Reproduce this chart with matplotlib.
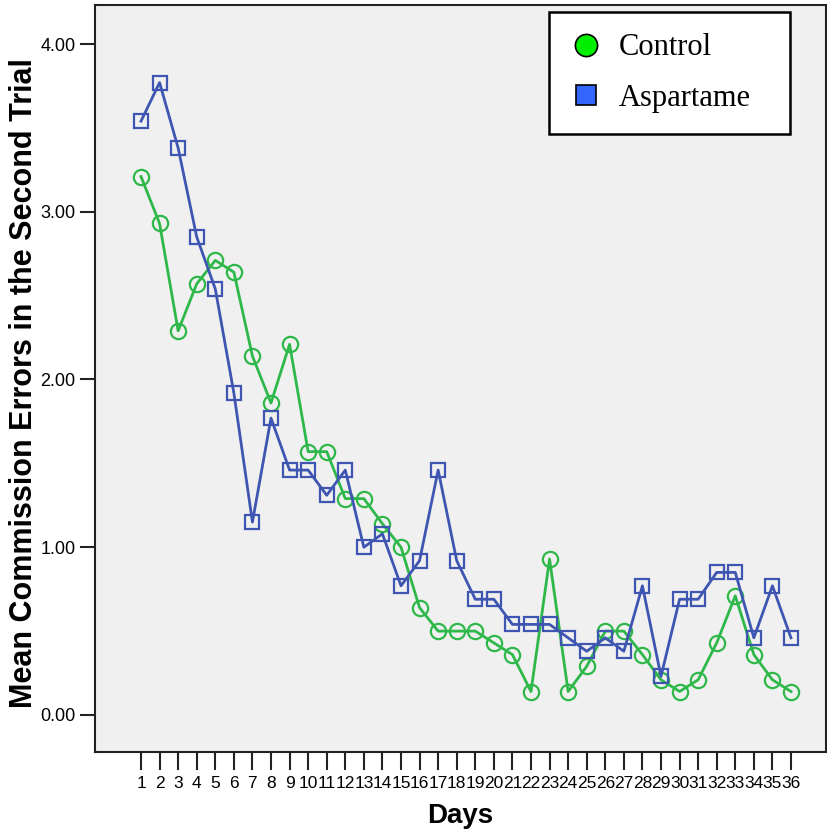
import matplotlib.pyplot as plt
from matplotlib.lines import Line2D

# days on the x axis
days = list(range(1, 37))

# mean commission errors per day
control = [3.21, 2.93, 2.29, 2.57, 2.71, 2.64, 2.14, 1.86, 2.21, 1.57,
           1.57, 1.29, 1.29, 1.14, 1.00, 0.64, 0.50, 0.50, 0.50, 0.43,
           0.36, 0.14, 0.93, 0.14, 0.29, 0.50, 0.50, 0.36, 0.21, 0.14,
           0.21, 0.43, 0.71, 0.36, 0.21, 0.14]
aspartame = [3.54, 3.77, 3.38, 2.85, 2.54, 1.92, 1.15, 1.77, 1.46, 1.46,
             1.31, 1.46, 1.00, 1.08, 0.77, 0.92, 1.46, 0.92, 0.69, 0.69,
             0.54, 0.54, 0.54, 0.46, 0.38, 0.46, 0.38, 0.77, 0.23, 0.69,
             0.69, 0.85, 0.85, 0.46, 0.77, 0.46]

y_ticks = [0, 1, 2, 3, 4]
y_ticklabels = ['0.00', '1.00', '2.00', '3.00', '4.00']

green = '#2fb84a'
blue = '#3e56b2'
narrow = ['Liberation Sans Narrow', 'Liberation Sans']

fig = plt.figure(figsize=(8.27, 8.33), dpi=100)
ax = fig.add_axes([95 / 827, 81 / 833, 731 / 827, 747 / 833])
ax.set_facecolor('#f0f0f0')

ax.plot(days, control, color=green, lw=2, marker='o', ms=11,
        mfc='none', mec=green, mew=1.6)
ax.plot(days, aspartame, color=blue, lw=2, marker='s', ms=10.5,
        mfc='none', mec=blue, mew=1.6)

ax.set_xlim(-1.477, 37.885)
ax.set_ylim(-0.2206, 4.2325)

ax.set_xticks(days)
ax.set_xticklabels([str(d) for d in days], family=narrow, fontsize=12.5)
ax.set_yticks(y_ticks)
ax.set_yticklabels(y_ticklabels, family='Liberation Sans', fontsize=13)
ax.tick_params(axis='x', direction='out', length=13, width=1.5, pad=4, color='#222222')
ax.tick_params(axis='y', direction='out', length=11, width=1.5, pad=3, color='#222222')

for s in ax.spines.values():
    s.set_linewidth(1.5)
    s.set_color('#222222')

ax.set_xlabel('Days', family=narrow, fontsize=20, fontweight='bold')
ax.xaxis.set_label_coords(0.5, -0.068)
ax.set_ylabel('Mean Commission Errors in the Second Trial', family='Liberation Sans',
              fontsize=22, fontweight='bold')
ax.yaxis.set_label_coords(-0.077, 0.494)

handles = [
    Line2D([], [], ls='none', marker='o', ms=16, mfc='#00ee00', mec='black', mew=1.2),
    Line2D([], [], ls='none', marker='s', ms=15, mfc='#3366ff', mec='black', mew=1.2),
]
leg = ax.legend(handles, ['Control', 'Aspartame'], loc='upper left',
                bbox_to_anchor=(0.621, 0.83, 0.330, 0.1606), mode='expand',
                prop={'family': 'Liberation Serif', 'size': 22},
                fancybox=False, framealpha=1, edgecolor='black', borderpad=0.7,
                labelspacing=0.7, handlelength=1.0, handletextpad=0.6, borderaxespad=0)
leg.get_frame().set_linewidth(1.8)

fig.savefig('out.png', dpi=100)
